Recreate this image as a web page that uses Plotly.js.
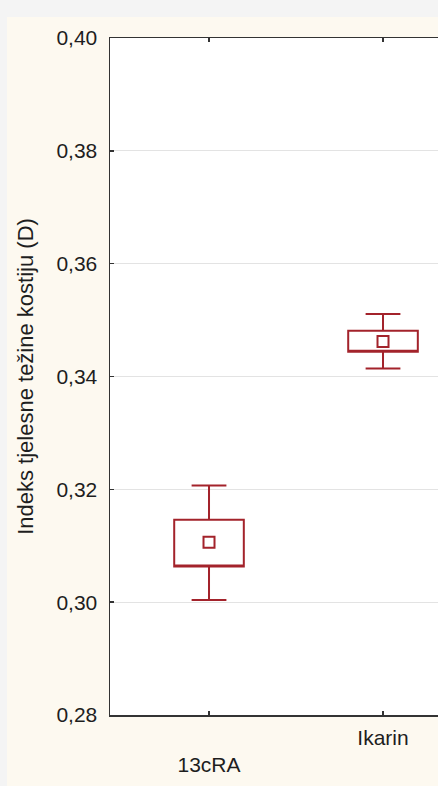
<!DOCTYPE html>
<html>
<head>
<meta charset="utf-8">
<script src="https://cdn.plot.ly/plotly-3.0.1.min.js"></script>
<style>
  html, body { margin: 0; padding: 0; width: 438px; height: 786px; overflow: hidden; background: #f4f4f4; }
  #chart { position: absolute; left: 7px; top: 17px; width: 431px; height: 769px; }
</style>
</head>
<body>
<div id="chart"></div>
<script>
const categories = ['13cRA', 'Ikarin'];
const tickLabels = ['<br>13cRA', 'Ikarin'];
const means = [0.3106, 0.3462];
const boxLow = [0.3063, 0.3444];
const boxHigh = [0.3146, 0.3481];
const whiskerLow = [0.3004, 0.3414];
const whiskerHigh = [0.3207, 0.3511];
const yTicks = [0.28, 0.30, 0.32, 0.34, 0.36, 0.38, 0.40];
const yTickText = ['0,28', '0,30', '0,32', '0,34', '0,36', '0,38', '0,40'];

const red = '#a3232b';
const font = 'Liberation Sans, Arial, sans-serif';

const boxTrace = {
  type: 'box',
  x: categories,
  q1: boxLow,
  median: boxLow,
  q3: boxHigh,
  lowerfence: whiskerLow,
  upperfence: whiskerHigh,
  width: 0.40,
  whiskerwidth: 0.5,
  line: { color: red, width: 2 },
  fillcolor: 'rgba(255,255,255,0)',
  boxpoints: false,
  hoverinfo: 'skip',
  showlegend: false
};
const meanTrace = {
  type: 'scatter',
  mode: 'markers',
  x: categories,
  y: means,
  marker: { symbol: 'square-open', size: 11, color: red, line: { width: 2, color: red } },
  showlegend: false,
  hoverinfo: 'skip'
};

const layout = {
  width: 431,
  height: 769,
  margin: { l: 103, r: 0, t: 21, b: 71 },
  paper_bgcolor: '#fdf9f0',
  plot_bgcolor: '#ffffff',
  font: { family: font, size: 21, color: '#1e1e1e' },
  showlegend: false,
  xaxis: {
    type: 'category',
    range: [-0.569, 1.316],
    tickmode: 'array',
    tickvals: categories,
    ticktext: tickLabels,
    ticks: 'inside',
    ticklen: 4,
    tickwidth: 1.5,
    tickcolor: '#333',
    ticklabelstandoff: 3,
    showline: true,
    linecolor: '#333',
    linewidth: 1.5,
    mirror: 'ticks',
    showgrid: false,
    zeroline: false,
    tickfont: { family: font, size: 21, color: '#1e1e1e' }
  },
  yaxis: {
    range: [0.28, 0.40],
    tickmode: 'array',
    tickvals: yTicks,
    ticktext: yTickText,
    ticks: 'inside',
    ticklen: 4,
    tickwidth: 1.5,
    tickcolor: '#333',
    ticklabelstandoff: 7,
    showline: true,
    linecolor: '#333',
    linewidth: 1.5,
    mirror: false,
    showgrid: true,
    gridcolor: '#e3e3e3',
    gridwidth: 1,
    zeroline: false,
    tickfont: { family: font, size: 21, color: '#1e1e1e' },
    title: { text: 'Indeks tjelesne težine kostiju (D)', font: { family: font, size: 22, color: '#1e1e1e' }, standoff: 16 }
  }
};

Plotly.newPlot('chart', [boxTrace, meanTrace], layout, { displayModeBar: false, staticPlot: true });
</script>
</body>
</html>
